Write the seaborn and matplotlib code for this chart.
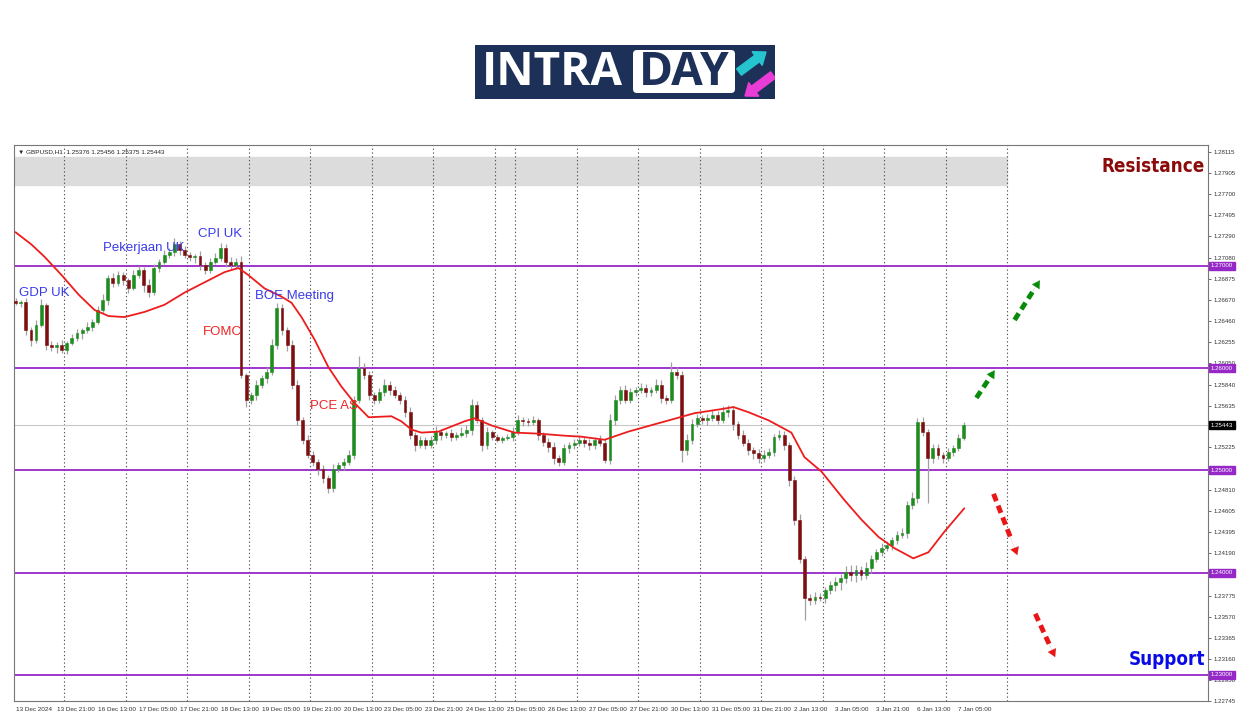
import numpy as np
import seaborn as sns
import matplotlib.pyplot as plt
from matplotlib.patches import Rectangle, FancyBboxPatch, FancyArrow

# ---- data ------------------------------------------------------------------
# one candle every 2 hours, x = H1 bar number (0 = 13 Dec 05:00), prices in pips
first_open = 12666
closes = [12664, 12665, 12637, 12628, 12642, 12662, 12623, 12621, 12623, 12618,
          12625, 12630, 12634, 12637, 12640, 12645, 12657, 12667, 12688, 12683,
          12691, 12686, 12678, 12691, 12696, 12681, 12675, 12698, 12704, 12711,
          12714, 12721, 12716, 12711, 12709, 12710, 12701, 12696, 12704, 12708,
          12718, 12704, 12701, 12704, 12593, 12569, 12574, 12584, 12590, 12596,
          12623, 12659, 12637, 12623, 12584, 12549, 12530, 12515, 12508, 12501,
          12493, 12483, 12501, 12505, 12508, 12515, 12569, 12600, 12593, 12574,
          12569, 12577, 12584, 12579, 12574, 12569, 12557, 12535, 12525, 12530,
          12525, 12530, 12538, 12535, 12537, 12533, 12535, 12537, 12540, 12564,
          12549, 12525, 12538, 12533, 12530, 12532, 12533, 12538, 12549, 12548,
          12547, 12549, 12535, 12528, 12523, 12512, 12508, 12522, 12525, 12527,
          12530, 12527, 12525, 12530, 12527, 12510, 12549, 12569, 12579, 12569,
          12577, 12579, 12581, 12577, 12579, 12584, 12571, 12569, 12596, 12593,
          12520, 12530, 12545, 12551, 12549, 12551, 12554, 12549, 12557, 12559,
          12545, 12535, 12527, 12520, 12517, 12512, 12515, 12518, 12533, 12535,
          12525, 12491, 12452, 12413, 12375, 12373, 12376, 12375, 12383, 12388,
          12391, 12395, 12401, 12398, 12403, 12398, 12405, 12413, 12420, 12424,
          12427, 12432, 12437, 12439, 12466, 12473, 12547, 12538, 12512, 12522,
          12515, 12512, 12518, 12522, 12532, 12544.3]
wick_up = [3, 2, 4, 3, 5, 6, 2, 4, 3, 5, 2, 3, 4, 2, 5, 3, 4, 6, 3, 5,
           4, 3, 2, 5, 4, 3, 6, 4, 3, 5, 4, 6, 3, 4, 3, 2, 5, 3, 4, 5,
           4, 3, 5, 4, 6, 2, 3, 4, 3, 5, 6, 5, 4, 3, 5, 4, 3, 5, 4, 3,
           4, 3, 5, 3, 4, 5, 4, 12, 5, 4, 3, 4, 5, 3, 4, 3, 4, 5, 3, 4,
           3, 4, 5, 3, 2, 4, 3, 5, 4, 6, 4, 3, 4, 2, 3, 2, 3, 4, 5, 3,
           3, 4, 2, 3, 4, 5, 3, 4, 3, 4, 5, 3, 4, 3, 5, 4, 6, 5, 4, 5,
           4, 3, 5, 4, 3, 5, 4, 3, 10, 5, 4, 6, 5, 4, 3, 4, 5, 4, 6, 5,
           4, 3, 5, 4, 3, 4, 5, 4, 3, 5, 4, 3, 4, 5, 3, 4, 5, 4, 3, 4,
           5, 4, 6, 7, 5, 4, 5, 4, 3, 5, 4, 3, 4, 5, 4, 6, 4, 5, 3, 4,
           4, 3, 4, 3, 4, 3]
wick_dn = [2, 4, 5, 6, 3, 2, 5, 4, 6, 3, 4, 2, 3, 5, 3, 4, 2, 3, 5, 4,
           3, 5, 4, 2, 3, 6, 5, 3, 4, 2, 3, 4, 5, 3, 4, 6, 5, 4, 3, 2,
           3, 5, 4, 4, 3, 7, 4, 5, 3, 4, 3, 4, 5, 6, 4, 5, 4, 3, 4, 5,
           5, 5, 4, 3, 5, 3, 4, 3, 4, 5, 4, 3, 4, 5, 3, 4, 5, 4, 6, 3,
           4, 3, 4, 5, 3, 4, 3, 2, 4, 5, 3, 6, 4, 3, 2, 3, 2, 4, 3, 5,
           4, 3, 5, 4, 5, 6, 4, 3, 5, 4, 3, 4, 5, 4, 3, 3, 4, 5, 4, 3,
           3, 4, 3, 5, 4, 3, 5, 4, 3, 4, 12, 5, 4, 3, 4, 5, 3, 4, 3, 5,
           5, 4, 3, 5, 6, 5, 4, 3, 4, 3, 5, 6, 5, 4, 21, 5, 4, 3, 5, 4,
           6, 8, 5, 6, 7, 5, 4, 5, 3, 4, 3, 5, 4, 3, 5, 4, 5, 4, 44, 5,
           4, 5, 3, 4, 3, 2]

# moving average (red line), read at a set of bars
ma_bar = [0, 6.2, 11.3, 18, 24.6, 30.8, 36.3, 42.5, 50.3, 58.1, 66, 73.8, 81.6,
          87, 90.9, 97.2, 103.8, 107.7, 111.6, 116.7, 122.1, 127.2, 132.3, 137.8,
          146.7, 150.6, 154.5, 158.4, 165.1, 175.2, 179.1, 185.8, 194.7, 204.1,
          214.2, 220.9, 229.9, 239.2, 252.1, 265, 275.5, 280.2, 286, 293.9, 302.8,
          307.9, 314.5, 323.5, 330.1, 336.8, 343, 350.4, 356.3, 362.5, 370.3]
ma_val = [12733, 12721, 12709, 12691, 12672, 12657, 12651, 12650, 12655, 12662,
          12674, 12684, 12694, 12698, 12691, 12678, 12670, 12664, 12650, 12628,
          12601, 12582, 12566, 12552, 12553, 12548, 12540, 12537, 12538, 12548,
          12551, 12544, 12537, 12536, 12534, 12533, 12530, 12538, 12547, 12556,
          12560, 12562, 12557, 12549, 12537, 12513, 12499, 12471, 12452, 12435,
          12424, 12414, 12420, 12440, 12463]

levels = [1.27000, 1.26000, 1.25000, 1.24000, 1.23000]
last_price = 1.25443
resist_lo, resist_hi = 1.2779, 1.2807
day_breaks = [19, 43, 67, 91, 115, 139, 163, 187, 195, 219, 243, 267, 291, 315,
              339, 363, 387]
tick_pos = list(range(0, 369, 16))
tick_text = ["13 Dec 2024", "13 Dec 21:00", "16 Dec 13:00", "17 Dec 05:00",
             "17 Dec 21:00", "18 Dec 13:00", "19 Dec 05:00", "19 Dec 21:00",
             "20 Dec 13:00", "23 Dec 05:00", "23 Dec 21:00", "24 Dec 13:00",
             "25 Dec 05:00", "26 Dec 13:00", "27 Dec 05:00", "27 Dec 21:00",
             "30 Dec 13:00", "31 Dec 05:00", "31 Dec 21:00", "2 Jan 13:00",
             "3 Jan 05:00", "3 Jan 21:00", "6 Jan 13:00", "7 Jan 05:00"]
ytick_vals = [1.28115, 1.27905, 1.27700, 1.27495, 1.27290, 1.27080, 1.26875,
              1.26670, 1.26460, 1.26255, 1.26050, 1.25840, 1.25635, 1.25225,
              1.24810, 1.24605, 1.24395, 1.24190, 1.23775, 1.23570, 1.23365,
              1.23160, 1.22950, 1.22745]

event_names = ["GDP UK", "Pekerjaan UK", "CPI UK", "BOE Meeting", "FOMC", "PCE AS"]
event_bar = [1.2, 34, 71.4, 93.3, 73, 115.1]
event_price = [1.26736, 1.27176, 1.27313, 1.26707, 1.26355, 1.25631]
event_color = ["#3b3bea", "#3b3bea", "#3b3bea", "#3b3bea", "#f02424", "#f02424"]

# dashed scenario arrows: (tail bar, tail price, head bar, head price)
arrows_up = [(375, 1.25710, 382.8, 1.26003), (389.9, 1.26472, 400.4, 1.26883)]
arrows_dn = [(381.7, 1.24771, 391.4, 1.24146), (398, 1.23598, 406.2, 1.23149)]

# ---- style -----------------------------------------------------------------
sns.set_style('white')
plt.rcParams['font.family'] = ['Liberation Sans', 'DejaVu Sans']

W, H = 1250, 716
fig = plt.figure(figsize=(W / 100, H / 100), dpi=100)
ax = fig.add_axes([14 / W, 1 - 701 / H, 1194 / W, 556 / H])

purple = '#9628c8'

# ---- candles ---------------------------------------------------------------
x = np.arange(len(closes)) * 2
c = np.array(closes) / 1e4
o = np.r_[first_open, closes[:-1]] / 1e4
hi = np.maximum(o, c) + np.array(wick_up) / 1e4
lo = np.minimum(o, c) - np.array(wick_dn) / 1e4
up = c >= o

ax.vlines(x, lo, hi, color='#a0a0a0', lw=0.9, zorder=3)
ax.bar(x[up], (c - o)[up], bottom=o[up], width=1.1, color='#1e8c1e',
       edgecolor='#1e8c1e', lw=0.4, zorder=4)
ax.bar(x[~up], (o - c)[~up], bottom=c[~up], width=1.1, color='#7c1010',
       edgecolor='#7c1010', lw=0.4, zorder=4)

# moving average
sns.lineplot(x=ma_bar, y=np.array(ma_val) / 1e4, ax=ax, color='#ee1d1d',
             lw=1.3, estimator=None, sort=False, zorder=5)

# ---- zones, levels, grid ---------------------------------------------------
ax.set_xlim(-0.6, 465.4)
ax.set_ylim(1.22745, 1.28183)
xmax_zone = (387 + 0.6) / 466
ax.axhspan(resist_lo, resist_hi, xmin=0, xmax=xmax_zone, color='#dcdcdc', zorder=0)
for d in day_breaks:
    ax.axvline(d, color='#555555', lw=0.8, ls=(0, (1.2, 2.2)), zorder=1)
for lv in levels:
    ax.axhline(lv, color=purple, lw=1.3, zorder=2)
ax.axhline(last_price, color='#c8c8c8', lw=0.8, zorder=1)

# ---- axes / ticks ----------------------------------------------------------
ax.yaxis.tick_right()
ax.set_yticks(ytick_vals)
ax.set_yticklabels([f"{v:.5f}" for v in ytick_vals], fontsize=4.4, color='#333333')
ax.tick_params(axis='y', length=2.5, width=0.6, pad=1.5, color='#555555')
ax.set_xticks(tick_pos)
ax.set_xticklabels(tick_text, fontsize=4.6, color='#333333', ha='left')
ax.tick_params(axis='x', length=3, width=0.6, pad=1.5, color='#555555')
for s in ax.spines.values():
    s.set_color('#777777')
    s.set_linewidth(0.8)
ax.set_xlabel('')
ax.set_ylabel('')

# price boxes on the right axis
ytr = ax.get_yaxis_transform()
for lv in levels:
    ax.text(1.0025, lv, f"{lv:.5f}", transform=ytr, fontsize=4.4, color='white',
            va='center', ha='left', zorder=10, clip_on=False,
            bbox=dict(boxstyle='square,pad=0.25', fc=purple, ec=purple))
ax.text(1.0025, last_price, f"{last_price:.5f}", transform=ytr, fontsize=4.4,
        color='white', va='center', ha='left', zorder=10, clip_on=False,
        bbox=dict(boxstyle='square,pad=0.25', fc='black', ec='black'))

# header
ax.text(0.003, 0.992, "\u25bc GBPUSD,H1  1.25376 1.25456 1.25375 1.25443",
        transform=ax.transAxes, fontsize=4.6, va='top', ha='left', color='#222222')

# event labels
for name, b, p, col in zip(event_names, event_bar, event_price, event_color):
    ax.text(b, p, name, color=col, fontsize=9.5, va='center', ha='left', zorder=6)

# resistance / support
ax.text(0.9975, 1.27968, "Resistance", transform=ytr, ha='right', va='center',
        fontsize=13.5, fontweight='heavy', fontstretch='condensed', color='#8b0a0a',
        family=['DejaVu Sans'], zorder=6)
ax.text(0.9975, 1.23149, "Support", transform=ytr, ha='right', va='center',
        fontsize=13.5, fontweight='heavy', fontstretch='condensed', color='#0a0ae6',
        family=['DejaVu Sans'], zorder=6)

# dashed arrows
def dashed_arrow(t_b, t_p, h_b, h_p, col):
    ax.plot([t_b, t_b + (h_b - t_b) * 0.72], [t_p, t_p + (h_p - t_p) * 0.72],
            color=col, lw=3.5, ls=(0, (1.6, 1.0)), solid_capstyle='butt', zorder=7)
    ax.annotate('', xy=(h_b, h_p),
                xytext=(t_b + (h_b - t_b) * 0.62, t_p + (h_p - t_p) * 0.62),
                arrowprops=dict(arrowstyle='-|>,head_length=0.55,head_width=0.32',
                                color=col, lw=0.1), zorder=7)

for a in arrows_up:
    dashed_arrow(*a, '#0a8a0a')
for a in arrows_dn:
    dashed_arrow(*a, '#e81616')

# ---- logo ------------------------------------------------------------------
navy = '#1d3158'
lax = fig.add_axes([475 / W, 1 - 99 / H, 300 / W, 54 / H])
lax.set_xlim(0, 300)
lax.set_ylim(54, 0)
lax.axis('off')
lax.add_patch(Rectangle((0, 0), 300, 54, color=navy))
lax.add_patch(FancyBboxPatch((158, 5), 102, 43, boxstyle='round,pad=0,rounding_size=4',
                             fc='white', ec='none'))
lax.text(7, 27.5, "INTRA", color='white', fontsize=33, fontweight='bold',
         va='center', ha='left', family='Open Sans')
lax.text(209, 27.5, "DAY", color=navy, fontsize=33, fontweight='bold',
         va='center', ha='center', family='Open Sans')
lax.add_patch(FancyArrow(264, 27, 27, -20, width=8, head_width=17, head_length=11,
                         length_includes_head=True, color='#25c4cf'))
lax.add_patch(FancyArrow(298, 30, -28, 21, width=8, head_width=17, head_length=11,
                         length_includes_head=True, color='#e83cd6'))

fig.savefig('out.png', dpi=100, facecolor='white')
